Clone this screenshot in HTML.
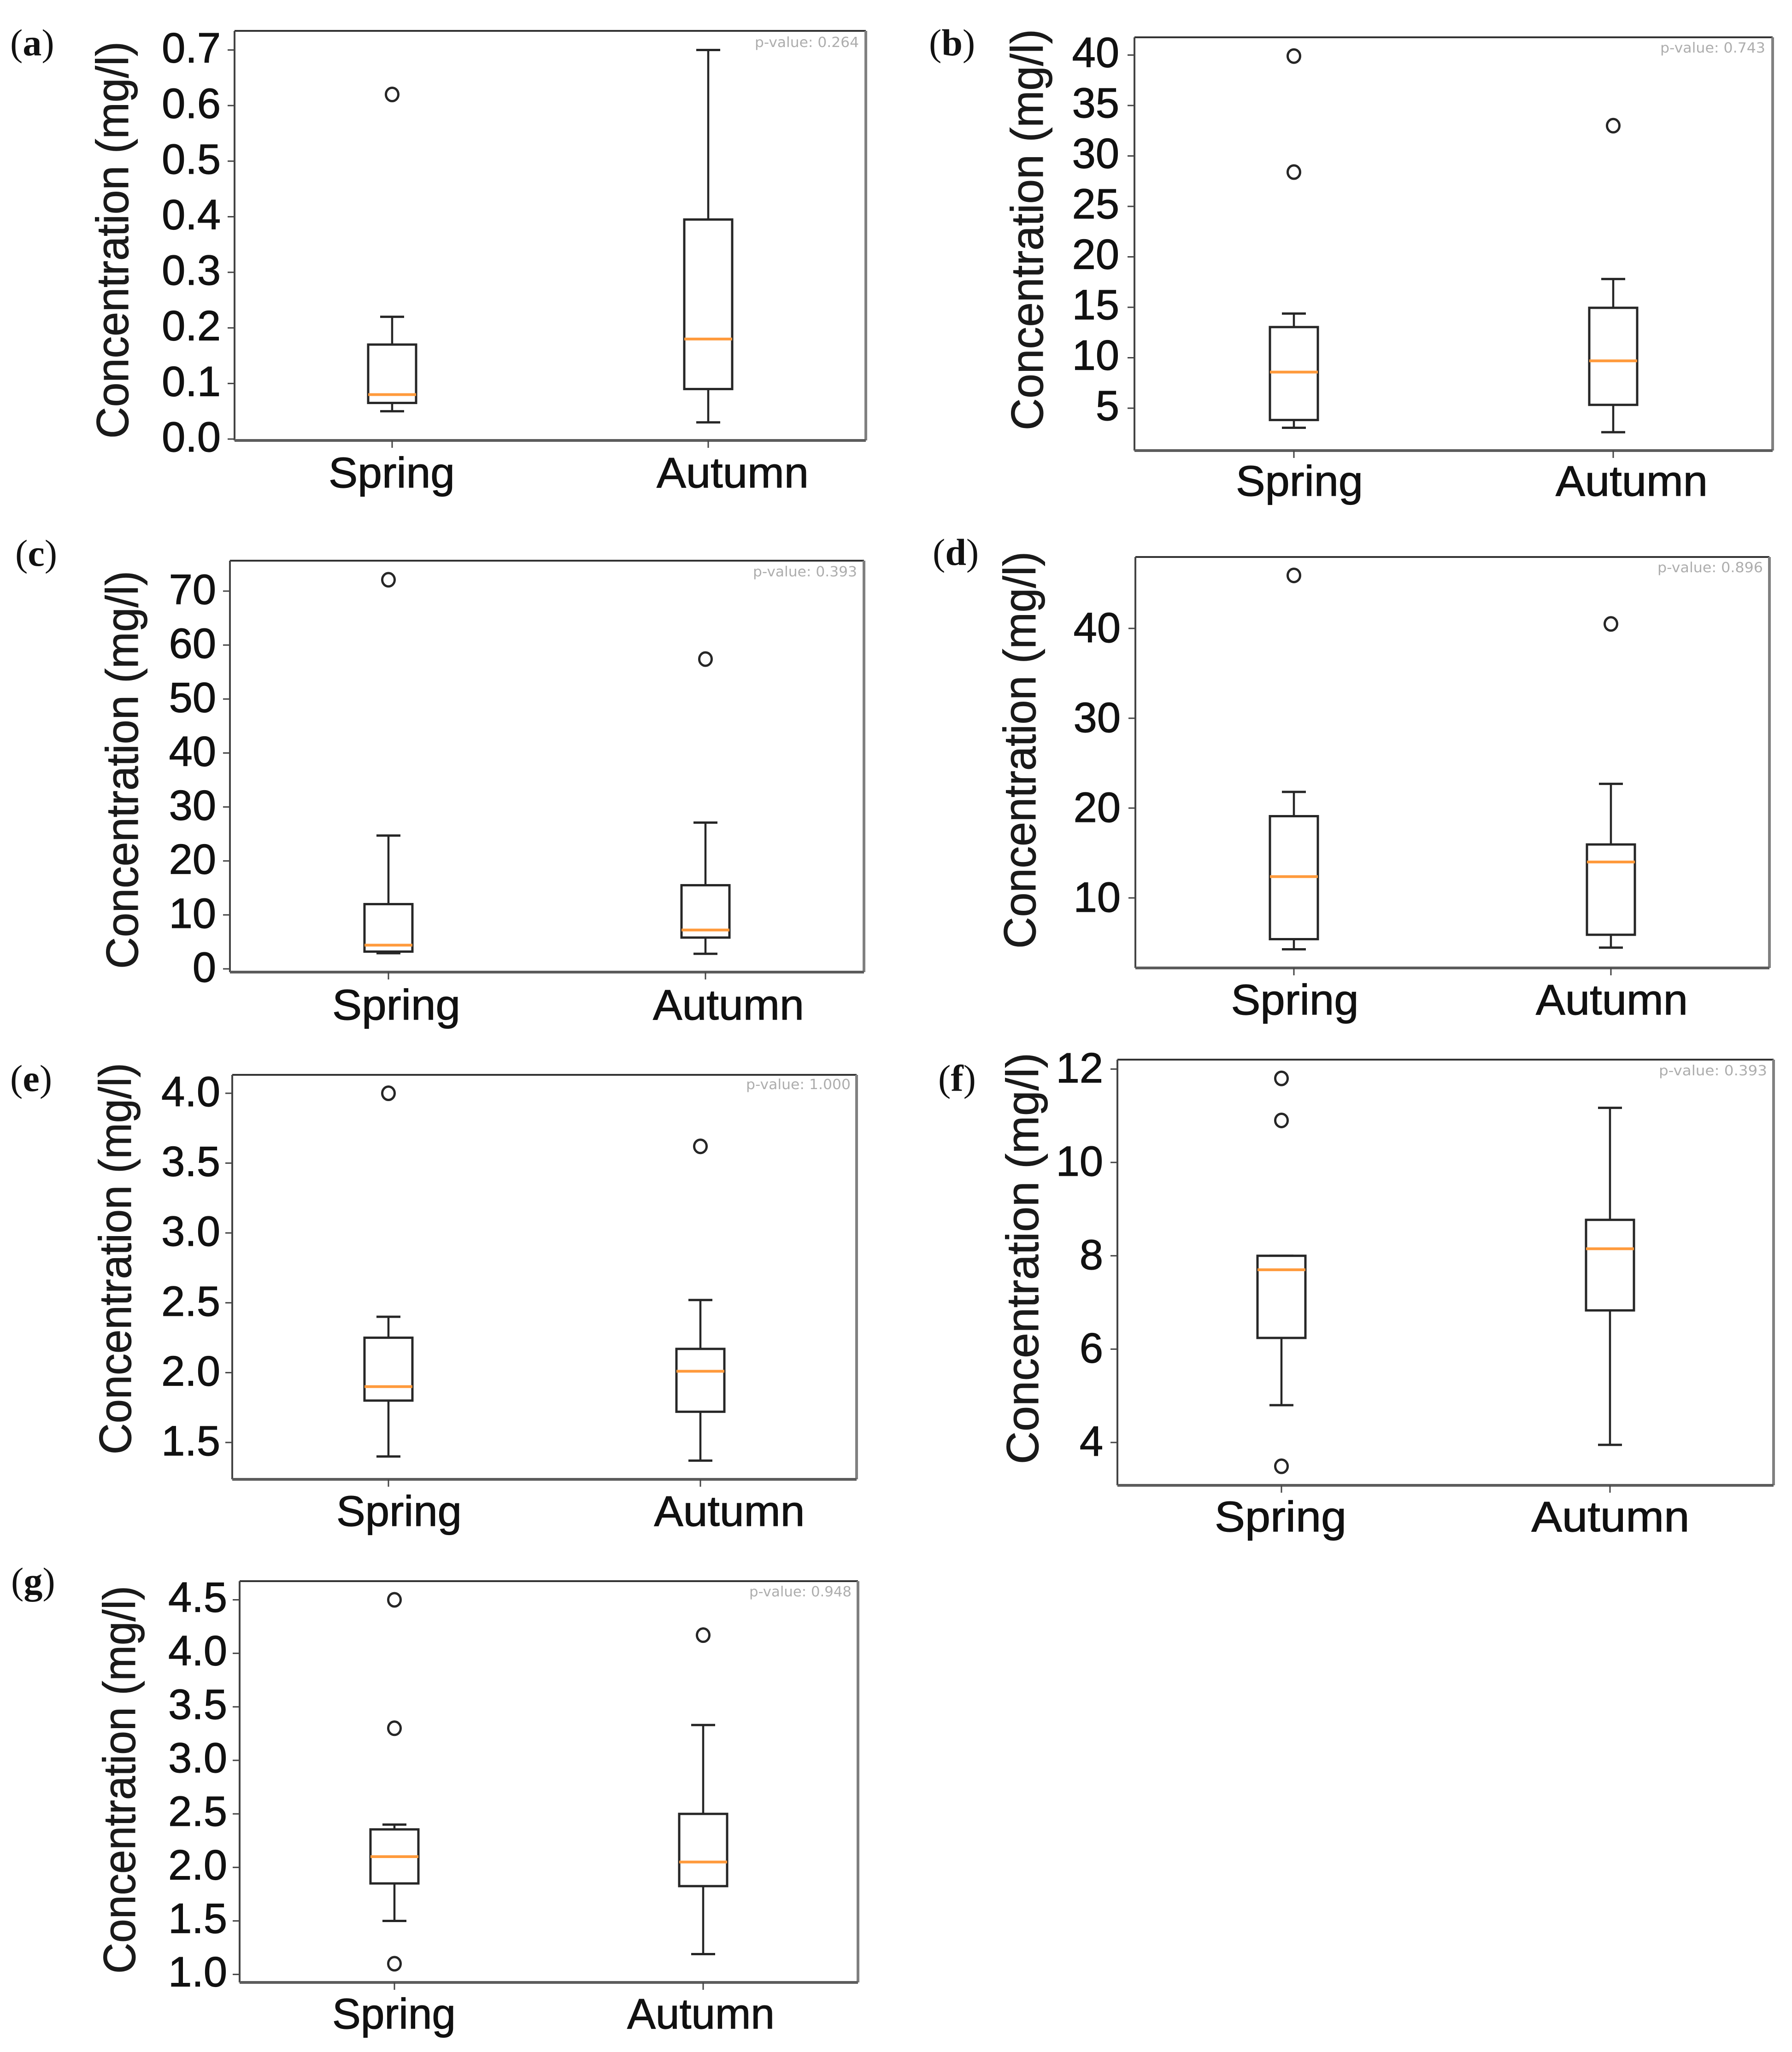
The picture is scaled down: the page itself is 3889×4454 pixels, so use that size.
<!DOCTYPE html>
<html lang="en">
<head>
<meta charset="utf-8">
<title>Seasonal concentration box plots</title>
<style>
html,body{margin:0;padding:0;background:#fff;}
svg{display:block;}
text{font-family:"Liberation Sans",Arial,sans-serif;fill:#111;}
.letter{font-family:"Liberation Serif",serif;font-size:82px;}
.letter tspan.b{font-weight:bold;}
.ytitle{font-size:98px;fill:#1a1a1a;stroke:#1a1a1a;stroke-width:1px;}
.axis-label{stroke:#111;stroke-width:1.2px;}
.pval{font-family:"DejaVu Sans",sans-serif;font-size:30px;fill:#adadad;}
</style>
</head>
<body>
<svg id="figure" xmlns="http://www.w3.org/2000/svg" width="3889" height="4454" viewBox="0 0 3889 4454">
<rect x="0" y="0" width="3889" height="4454" fill="#ffffff"/>

<text class="letter" x="22" y="120">(<tspan class="b">a</tspan>)</text>
<text class="letter" x="2016" y="120">(<tspan class="b">b</tspan>)</text>
<text class="letter" x="33" y="1228">(<tspan class="b">c</tspan>)</text>
<text class="letter" x="2024" y="1226">(<tspan class="b">d</tspan>)</text>
<text class="letter" x="22" y="2368">(<tspan class="b">e</tspan>)</text>
<text class="letter" x="2036" y="2368">(<tspan class="b">f</tspan>)</text>
<text class="letter" x="24" y="3459">(<tspan class="b">g</tspan>)</text>

<text class="ytitle" x="278" y="952" transform="rotate(-90 278 952)" textLength="862" lengthAdjust="spacingAndGlyphs">Concentration (mg/l)</text>
<text class="ytitle" x="2263" y="934" transform="rotate(-90 2263 934)" textLength="871" lengthAdjust="spacingAndGlyphs">Concentration (mg/l)</text>
<text class="ytitle" x="299" y="2103" transform="rotate(-90 299 2103)" textLength="864" lengthAdjust="spacingAndGlyphs">Concentration (mg/l)</text>
<text class="ytitle" x="2247" y="2059" transform="rotate(-90 2247 2059)" textLength="862" lengthAdjust="spacingAndGlyphs">Concentration (mg/l)</text>
<text class="ytitle" x="284" y="3157" transform="rotate(-90 284 3157)" textLength="850" lengthAdjust="spacingAndGlyphs">Concentration (mg/l)</text>
<text class="ytitle" x="2253" y="3178" transform="rotate(-90 2253 3178)" textLength="893" lengthAdjust="spacingAndGlyphs">Concentration (mg/l)</text>
<text class="ytitle" x="293" y="4284" transform="rotate(-90 293 4284)" textLength="842" lengthAdjust="spacingAndGlyphs">Concentration (mg/l)</text>

<text class="pval" x="1638" y="102" textLength="226" lengthAdjust="spacingAndGlyphs">p-value: 0.264</text>
<text class="pval" x="3603" y="114" textLength="228" lengthAdjust="spacingAndGlyphs">p-value: 0.743</text>
<text class="pval" x="1634" y="1251" textLength="226" lengthAdjust="spacingAndGlyphs">p-value: 0.393</text>
<text class="pval" x="3597" y="1242" textLength="229" lengthAdjust="spacingAndGlyphs">p-value: 0.896</text>
<text class="pval" x="1619" y="2364" textLength="227" lengthAdjust="spacingAndGlyphs">p-value: 1.000</text>
<text class="pval" x="3600" y="2334" textLength="235" lengthAdjust="spacingAndGlyphs">p-value: 0.393</text>
<text class="pval" x="1626" y="3465" textLength="222" lengthAdjust="spacingAndGlyphs">p-value: 0.948</text>
</svg>

<script>
// ---- chart data: box stats are [whisker low, Q1, median, Q3, whisker high] ----
const categories = ['Spring', 'Autumn'];

const aTickValues = [0, 0.1, 0.2, 0.3, 0.4, 0.5, 0.6, 0.7];
const aTickLabels = ['0.0', '0.1', '0.2', '0.3', '0.4', '0.5', '0.6', '0.7'];
const aSpringStats = [0.05, 0.065, 0.08, 0.17, 0.22];
const aAutumnStats = [0.03, 0.09, 0.18, 0.395, 0.70];
const aSpringFliers = [0.62];
const aAutumnFliers = [];

const bTickValues = [5, 10, 15, 20, 25, 30, 35, 40];
const bTickLabels = ['5', '10', '15', '20', '25', '30', '35', '40'];
const bSpringStats = [3.06, 3.83, 8.58, 13.04, 14.38];
const bAutumnStats = [2.62, 5.33, 9.69, 14.95, 17.8];
const bSpringFliers = [28.4, 39.9];
const bAutumnFliers = [33];

const cTickValues = [0, 10, 20, 30, 40, 50, 60, 70];
const cTickLabels = ['0', '10', '20', '30', '40', '50', '60', '70'];
const cSpringStats = [2.9, 3.2, 4.4, 12.0, 24.7];
const cAutumnStats = [2.8, 5.8, 7.2, 15.5, 27.1];
const cSpringFliers = [72.1];
const cAutumnFliers = [57.4];

const dTickValues = [10, 20, 30, 40];
const dTickLabels = ['10', '20', '30', '40'];
const dSpringStats = [4.28, 5.41, 12.37, 19.1, 21.8];
const dAutumnStats = [4.47, 5.9, 14.0, 15.95, 22.7];
const dSpringFliers = [45.9];
const dAutumnFliers = [40.5];

const eTickValues = [1.5, 2.0, 2.5, 3.0, 3.5, 4.0];
const eTickLabels = ['1.5', '2.0', '2.5', '3.0', '3.5', '4.0'];
const eSpringStats = [1.4, 1.8, 1.9, 2.25, 2.4];
const eAutumnStats = [1.37, 1.72, 2.01, 2.17, 2.52];
const eSpringFliers = [4.0];
const eAutumnFliers = [3.62];

const fTickValues = [4, 6, 8, 10, 12];
const fTickLabels = ['4', '6', '8', '10', '12'];
const fSpringStats = [4.8, 6.24, 7.7, 8.0, 8.0];
const fAutumnStats = [3.95, 6.83, 8.15, 8.77, 11.17];
const fSpringFliers = [3.49, 10.9, 11.8];
const fAutumnFliers = [];

const gTickValues = [1.0, 1.5, 2.0, 2.5, 3.0, 3.5, 4.0, 4.5];
const gTickLabels = ['1.0', '1.5', '2.0', '2.5', '3.0', '3.5', '4.0', '4.5'];
const gSpringStats = [1.5, 1.85, 2.1, 2.355, 2.4];
const gAutumnStats = [1.19, 1.825, 2.05, 2.5, 3.33];
const gSpringFliers = [1.1, 3.3, 4.5];
const gAutumnFliers = [4.17];

// ---- layout: frame edges and axis calibration for each panel (not data) ----
const panelLayouts = [
  {id:'a', left:509,  right:1879, top:67,   bottom:956,  vLow:0,   yLow:953,    vHigh:0.7, yHigh:108.5,  xFirst:851,  xSecond:1537, labelRight:479,  labelShift:-6, labelBase:1058, firstCenter:850,  secondCenter:1590, firstWidth:274, secondWidth:330},
  {id:'b', left:2462, right:3847, top:81,   bottom:978,  vLow:5,   yLow:886,    vHigh:40,  yHigh:119.5,  xFirst:2808, xSecond:3501, labelRight:2429, labelShift:-7, labelBase:1076, firstCenter:2820, secondCenter:3541, firstWidth:276, secondWidth:330},
  {id:'c', left:499,  right:1875, top:1217, bottom:2110, vLow:0,   yLow:2103,   vHigh:70,  yHigh:1283,   xFirst:843,  xSecond:1531, labelRight:469,  labelShift:-5, labelBase:2213, firstCenter:860,  secondCenter:1581, firstWidth:278, secondWidth:328},
  {id:'d', left:2464, right:3840, top:1209, bottom:2101, vLow:10,  yLow:1949,   vHigh:40,  yHigh:1364,   xFirst:2808, xSecond:3496, labelRight:2432, labelShift:-3, labelBase:2202, firstCenter:2810, secondCenter:3498, firstWidth:277, secondWidth:330},
  {id:'e', left:504,  right:1859, top:2333, bottom:3211, vLow:1.5, yLow:3131,   vHigh:4.0, yHigh:2373,   xFirst:843,  xSecond:1520, labelRight:478,  labelShift:-5, labelBase:3312, firstCenter:866,  secondCenter:1583, firstWidth:272, secondWidth:327},
  {id:'f', left:2425, right:3849, top:2300, bottom:3224, vLow:4,   yLow:3131,   vHigh:12,  yHigh:2320.5, xFirst:2781, xSecond:3494, labelRight:2394, labelShift:-4, labelBase:3324, firstCenter:2779, secondCenter:3495, firstWidth:286, secondWidth:343},
  {id:'g', left:520,  right:1862, top:3432, bottom:4303, vLow:1.0, yLow:4285.6, vHigh:4.5, yHigh:3472.5, xFirst:856,  xSecond:1526, labelRight:493,  labelShift:-7, labelBase:4403, firstCenter:855,  secondCenter:1521, firstWidth:268, secondWidth:320}
];

const SVG_NS = 'http://www.w3.org/2000/svg';
const figure = document.getElementById('figure');

function make(parent, tag, attrs) {
  const node = document.createElementNS(SVG_NS, tag);
  for (const key in attrs) node.setAttribute(key, attrs[key]);
  parent.appendChild(node);
  return node;
}

function drawBox(group, layout, yScale, xCenter, stats, fliers, seriesName) {
  const halfBox = 52;
  const halfCap = 26;
  const ink = '#262626';
  const series = make(group, 'g', {});
  
  

  const whiskerLow = make(series, 'line', {x1:xCenter, x2:xCenter, y1:yScale(stats[1]), y2:yScale(stats[0]), stroke:ink, 'stroke-width':4.5});
  
  

  const whiskerHigh = make(series, 'line', {x1:xCenter, x2:xCenter, y1:yScale(stats[3]), y2:yScale(stats[4]), stroke:ink, 'stroke-width':4.5});
  
  

  const capLow = make(series, 'line', {x1:xCenter - halfCap, x2:xCenter + halfCap, y1:yScale(stats[0]), y2:yScale(stats[0]), stroke:ink, 'stroke-width':5});
  
  

  const capHigh = make(series, 'line', {x1:xCenter - halfCap, x2:xCenter + halfCap, y1:yScale(stats[4]), y2:yScale(stats[4]), stroke:ink, 'stroke-width':5});
  
  

  const box = make(series, 'rect', {x:xCenter - halfBox, y:yScale(stats[3]), width:halfBox * 2, height:yScale(stats[1]) - yScale(stats[3]), fill:'#ffffff', stroke:ink, 'stroke-width':5});
  
  

  const median = make(series, 'line', {x1:xCenter - halfBox, x2:xCenter + halfBox, y1:yScale(stats[2]), y2:yScale(stats[2]), stroke:'#ff9a3c', 'stroke-width':6});
  
  

  fliers.forEach(function (value) {
    const flier = make(series, 'ellipse', {cx:xCenter, cy:yScale(value), rx:13.5, ry:14.5, fill:'none', stroke:ink, 'stroke-width':5});
    
    
  });
}

function drawPanel(layout, tickValues, tickLabels, springStats, autumnStats, springFliers, autumnFliers) {
  const yScale = function (value) {
    return layout.yLow + (value - layout.vLow) * (layout.yHigh - layout.yLow) / (layout.vHigh - layout.vLow);
  };
  const xScale = function (index) {
    return layout.xFirst + index * (layout.xSecond - layout.xFirst);
  };

  const group = make(figure, 'g', {});
  
  

  const frameTop = make(group, 'line', {x1:layout.left, x2:layout.right, y1:layout.top, y2:layout.top, stroke:'#333333', 'stroke-width':4});
  
  

  const frameLeft = make(group, 'line', {x1:layout.left, x2:layout.left, y1:layout.top, y2:layout.bottom, stroke:'#444444', 'stroke-width':4});
  
  

  const frameRight = make(group, 'line', {x1:layout.right, x2:layout.right, y1:layout.top, y2:layout.bottom, stroke:'#808080', 'stroke-width':6});
  
  

  const frameBottom = make(group, 'line', {x1:layout.left, x2:layout.right, y1:layout.bottom, y2:layout.bottom, stroke:'#5c5c5c', 'stroke-width':6});
  
  

  tickValues.forEach(function (value, i) {
    const tick = make(group, 'line', {x1:layout.left - 15, x2:layout.left, y1:yScale(value), y2:yScale(value), stroke:'#444444', 'stroke-width':3});
    
    

    const label = make(group, 'text', {class:'axis-label', x:layout.labelRight, y:yScale(value) + layout.labelShift + 33, 'text-anchor':'end', 'font-size':92});
    
    
    label.textContent = tickLabels[i];
  });

  categories.forEach(function (name, i) {
    const tick = make(group, 'line', {x1:xScale(i), x2:xScale(i), y1:layout.bottom, y2:layout.bottom + 16, stroke:'#444444', 'stroke-width':3});
    
    

    const center = i === 0 ? layout.firstCenter : layout.secondCenter;
    const width = i === 0 ? layout.firstWidth : layout.secondWidth;
    const label = make(group, 'text', {class:'axis-label', x:center - width / 2, y:layout.labelBase, 'font-size':93, textLength:width, lengthAdjust:'spacingAndGlyphs'});
    
    
    label.textContent = name;
  });

  drawBox(group, layout, yScale, xScale(0), springStats, springFliers, 'spring');
  drawBox(group, layout, yScale, xScale(1), autumnStats, autumnFliers, 'autumn');
}

drawPanel(panelLayouts[0], aTickValues, aTickLabels, aSpringStats, aAutumnStats, aSpringFliers, aAutumnFliers);
drawPanel(panelLayouts[1], bTickValues, bTickLabels, bSpringStats, bAutumnStats, bSpringFliers, bAutumnFliers);
drawPanel(panelLayouts[2], cTickValues, cTickLabels, cSpringStats, cAutumnStats, cSpringFliers, cAutumnFliers);
drawPanel(panelLayouts[3], dTickValues, dTickLabels, dSpringStats, dAutumnStats, dSpringFliers, dAutumnFliers);
drawPanel(panelLayouts[4], eTickValues, eTickLabels, eSpringStats, eAutumnStats, eSpringFliers, eAutumnFliers);
drawPanel(panelLayouts[5], fTickValues, fTickLabels, fSpringStats, fAutumnStats, fSpringFliers, fAutumnFliers);
drawPanel(panelLayouts[6], gTickValues, gTickLabels, gSpringStats, gAutumnStats, gSpringFliers, gAutumnFliers);
</script>
</body>
</html>
